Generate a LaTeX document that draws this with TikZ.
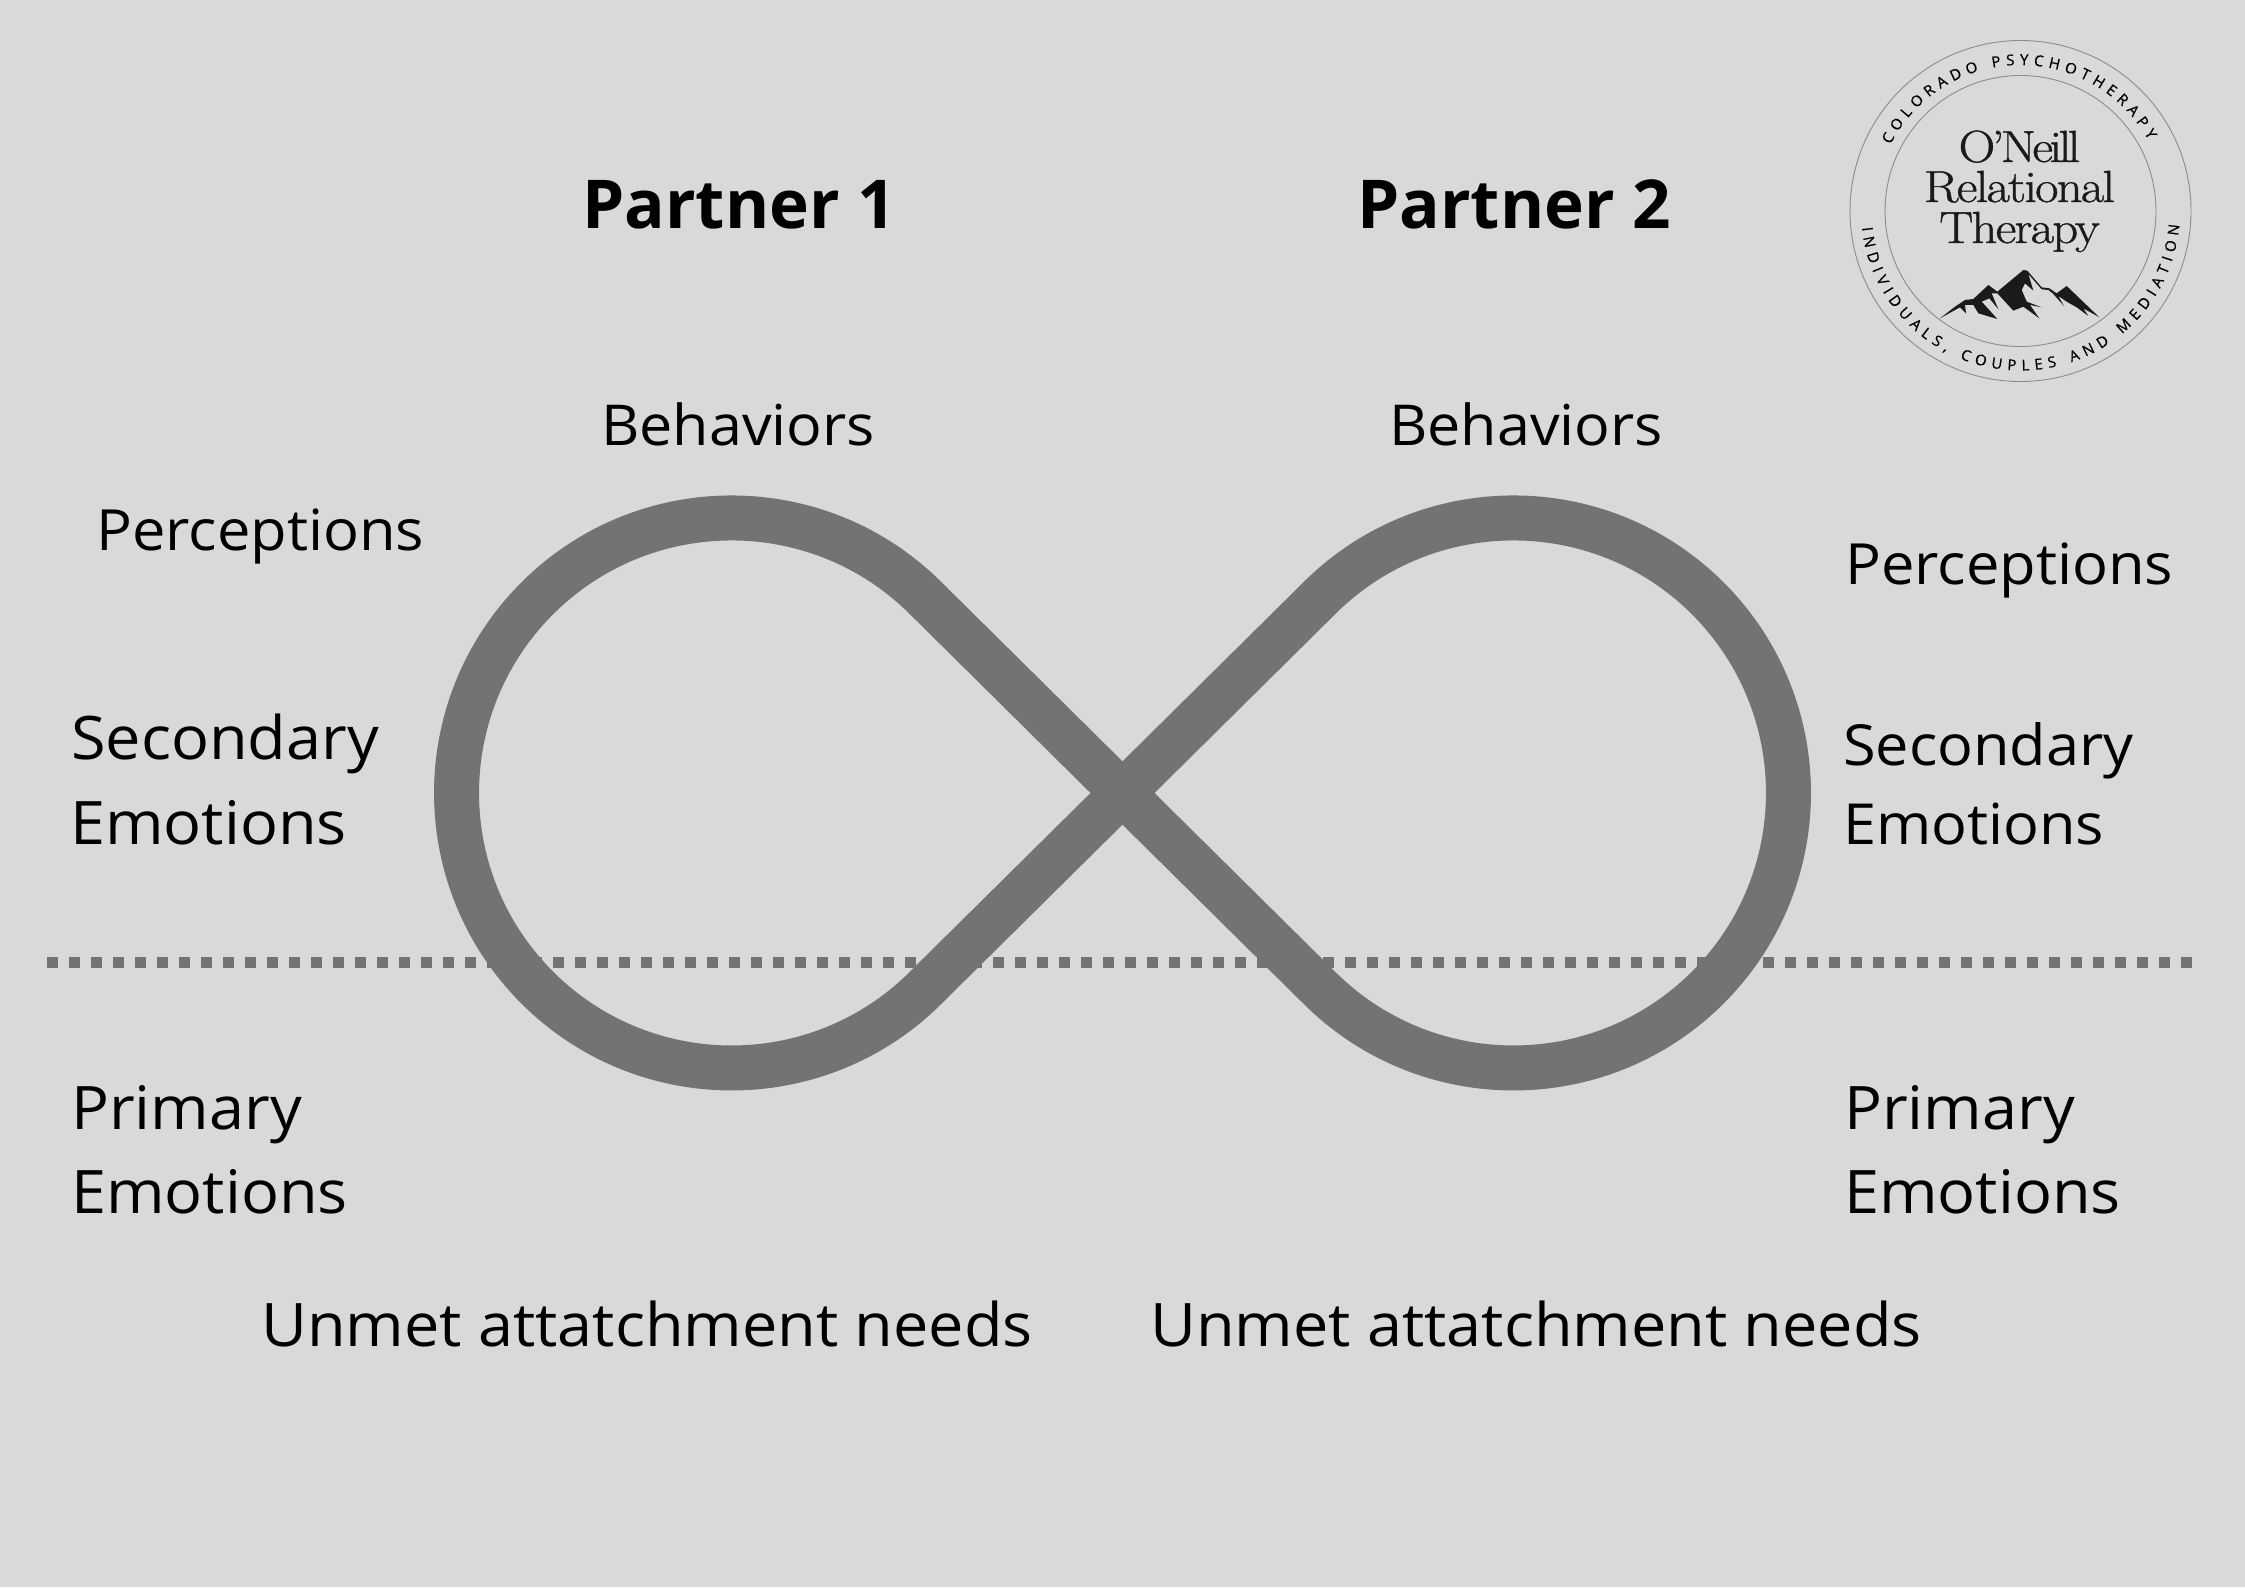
\documentclass[tikz,border=0pt]{standalone}
\usepackage{fontspec}
\newfontfamily\opensans[FakeStretch=1.05]{Open Sans}
\newfontfamily\opensansb[BoldFont={Open Sans Bold}]{Open Sans}
\newfontfamily\arcfont[FakeBold=0.5]{Open Sans}
\newfontfamily\logofont[LetterSpace=-4,FakeStretch=1.13,FakeBold=0.9]{Latin Modern Roman}
\usetikzlibrary{decorations.text}
\definecolor{bgc}{HTML}{D9D9D9}
\definecolor{loopc}{HTML}{737373}
\definecolor{inkc}{HTML}{1A1A1A}
\tikzset{
  lab/.style={anchor=base west,inner sep=0pt,font=\opensans\fontsize{56.8}{56.8}\selectfont,text=black},
  labb/.style={lab,font=\opensans\fontsize{60}{60}\selectfont},
  labs/.style={lab,font=\opensans\fontsize{56.6}{56.6}\selectfont},
  labm/.style={lab,font=\opensans\fontsize{56.4}{56.4}\selectfont},
  head/.style={anchor=base west,inner sep=0pt,font=\opensansb\bfseries\fontsize{67.4}{67.4}\selectfont,text=black},
  logotxt/.style={anchor=base,inner sep=0pt,font=\logofont\fontsize{45}{45}\selectfont,text=inkc},
  ring/.style={draw=black!45,line width=0.9pt},
  arc text/.style={decorate,decoration={text along path,text align={fit to path},
     text={|\arcfont\fontsize{15}{15}\selectfont\color{black}|#1}}}
}
\begin{document}
\begin{tikzpicture}[x=1pt,y=-1pt]
\useasboundingbox (0,0) rectangle (2245,1587);
\fill[bgc] (0,0) rectangle (2245,1587);
% dotted line
\coordinate (dl) at (47,962.5);
\coordinate (dr) at (2196,962.5);
\draw[loopc,line width=11pt,dash pattern=on 11pt off 11pt] (dl) -- (dr);
% infinity
\begin{scope}[shift={(1122.5,793)},y=1pt]
\coordinate (cross) at (0,0);
\draw[loopc,line width=45pt,line join=round]
  (cross) -- (-196.5,194.5) arc[start angle=45,end angle=315,radius=275pt]
  -- (cross) -- (196.5,194.5) arc[start angle=135,end angle=-135,radius=275pt] -- cycle;
\end{scope}
% headings
\node[head] (p1) at (582,228) {Partner 1};
\node[head] (p2) at (1357,228) {Partner 2};
\node[labm] (b1) at (601,445) {Behaviors};
\node[labm] (b2) at (1389,445) {Behaviors};
% left labels
\node[lab]  (pl) at (96,550) {Perceptions};
\node[labb] (sl) at (71,759) {Secondary};
\node[labb] (el) at (70,844) {Emotions};
\node[labb] (ml) at (71,1129) {Primary};
\node[labb] (nl) at (71,1213) {Emotions};
% right labels
\node[lab]  (pr) at (1845,584) {Perceptions};
\node[labs] (sr) at (1843,765) {Secondary};
\node[labs] (er) at (1843,844) {Emotions};
\node[labb] (mr) at (1844,1129) {Primary};
\node[labb] (nr) at (1844,1213) {Emotions};
% needs
\node[labb] (u1) at (261,1346) {Unmet attatchment needs};
\node[labb] (u2) at (1150,1346) {Unmet attatchment needs};
% logo
\begin{scope}[shift={(2020.5,211)},y=1pt]
\draw[ring] (0,0) circle[radius=170.5pt];
\draw[ring] (0,0) circle[radius=135.5pt];
\path[arc text={COLORADO PSYCHOTHERAPY}] (153:146) arc[start angle=153,end angle=29,radius=146pt];
\path[arc text={INDIVIDUALS, COUPLES AND MEDIATION}] (186:159.5) arc[start angle=186,end angle=355,radius=159.5pt];
\end{scope}
\node[logotxt] (l1) at (2019.5,162) {\addfontfeature{LetterSpace=-8}O’Neill};
\node[logotxt] (l2) at (2019.5,202) {Relational};
\node[logotxt] (l3) at (2019.5,243) {Therapy};
\begin{scope}[shift={(1920,250)},x=0.3333pt,y=-0.3333pt]
\fill[inkc] (60,205)--(105,170)--(135,150)--(160,147)--(205,105)--(232,125)--(310,60)--(322,62)--(365,112)--(388,115)--(410,130)--(440,108)--(538,202)--(490,175)--(505,198)--(470,172)--(440,155)--(415,138)--(432,168)--(398,130)--(385,120)--(365,118)--(325,72)--(340,122)--(315,100)--(305,120)--(320,155)--(365,172)--(330,165)--(358,205)--(310,170)--(280,182)--(232,130)--(215,130)--(235,178)--(208,145)--(185,155)--(232,207)--(175,190)--(160,165)--(135,165)--(138,190)--(120,172)--cycle;
\end{scope}
\end{tikzpicture}
\end{document}
